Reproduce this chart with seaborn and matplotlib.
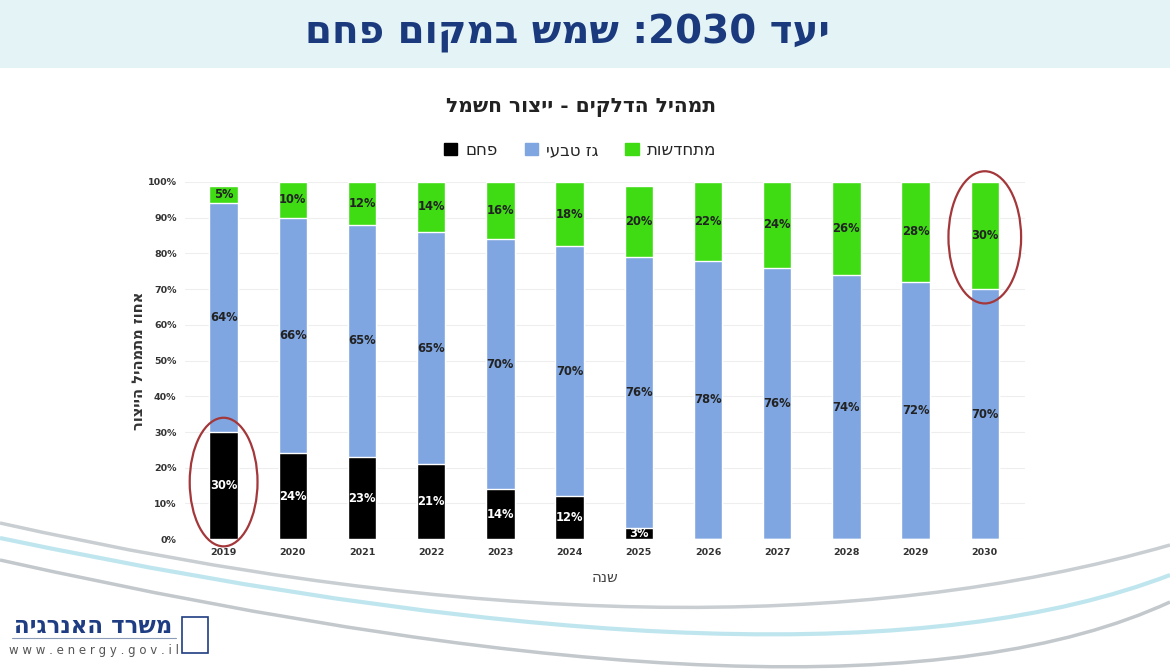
import re
import pandas as pd
import numpy as np
import matplotlib
matplotlib.use("Agg")
import matplotlib.pyplot as plt
from matplotlib.patches import Ellipse, Rectangle
from matplotlib.path import Path
from matplotlib.patches import PathPatch
import seaborn as sns

# data
years = ["2019", "2020", "2021", "2022", "2023", "2024", "2025",
         "2026", "2027", "2028", "2029", "2030"]
coal = [30, 24, 23, 21, 14, 12, 3, 0, 0, 0, 0, 0]
gas = [64, 66, 65, 65, 70, 70, 76, 78, 76, 74, 72, 70]
renew = [5, 10, 12, 14, 16, 18, 20, 22, 24, 26, 28, 30]

series_names = ["פחם", "גז טבעי", "מתחדשות"]
colors = ["#000000", "#7fa6e0", "#3fdc14"]

title_main = "יעד 2030: שמש במקום פחם"
chart_title = "תמהיל הדלקים - ייצור חשמל"
ylab = "אחוז מתמהיל הייצור"
xlab = "שנה"
org_name = "משרד האנרגיה"


def heb(s):
    # matplotlib has no bidi: reverse the string, keep digit runs readable
    r = s[::-1]
    return re.sub(r"\d+", lambda m: m.group(0)[::-1], r)


df = pd.DataFrame({"year": years, "coal": coal, "gas": gas, "renew": renew})
df["top_gas"] = df["coal"] + df["gas"]
df["top_all"] = df["top_gas"] + df["renew"]

sns.set_style("white")
plt.rcParams["font.family"] = ["DejaVu Sans"]

fig = plt.figure(figsize=(11.7, 6.69), dpi=100)
fig.patch.set_facecolor("white")

# background decoration: header band and swooshes
bg = fig.add_axes([0, 0, 1, 1], zorder=-5)
bg.set_xlim(0, 1170)
bg.set_ylim(669, 0)
bg.axis("off")
bg.add_patch(Rectangle((0, 0), 1170, 68, color="#e4f4f6", lw=0))


def swoosh(p0, p1, p2, color, lw):
    path = Path([p0, p1, p2], [Path.MOVETO, Path.CURVE3, Path.CURVE3])
    bg.add_patch(PathPatch(path, fc="none", ec=color, lw=lw))


swoosh((0, 523), (700, 680), (1170, 545), "#c9ced2", 2.5)
swoosh((0, 538), (820, 710), (1170, 575), "#bfe6ee", 3)
swoosh((0, 560), (850, 750), (1170, 602), "#c3c8cc", 2.5)

fig.text(0.485, 0.95, heb(title_main), ha="center", va="center",
         fontsize=28, fontweight="bold", color="#1b3a7e")

# logo
fig.text(0.080, 0.063, heb(org_name), ha="center", va="center",
         fontsize=16.5, fontweight="bold", color="#1f3d83")
fig.text(0.080, 0.028, "w w w . e n e r g y . g o v . i l", ha="center",
         va="center", fontsize=8.5, color="#555555")
bg.add_patch(Rectangle((182, 617), 26, 36, fc="none", ec="#1f3d83", lw=1.2))
bg.plot([12, 176], [638, 638], color="#8a9bb8", lw=0.8)

ax = fig.add_axes([0.158, 0.194, 0.718, 0.534])
ax.set_facecolor("none")

sns.barplot(data=df, x="year", y="top_all", color=colors[2], width=0.41,
            saturation=1, ax=ax, zorder=2)
sns.barplot(data=df, x="year", y="top_gas", color=colors[1], width=0.41,
            saturation=1, ax=ax, zorder=3)
sns.barplot(data=df, x="year", y="coal", color=colors[0], width=0.41,
            saturation=1, ax=ax, zorder=4)

# segment labels
for i in range(len(years)):
    segs = [(0, coal[i], "white"), (coal[i], gas[i], "#222222"),
            (coal[i] + gas[i], renew[i], "#222222")]
    for base, val, tc in segs:
        if val <= 0:
            continue
        ax.text(i, base + val / 2, f"{val}%", ha="center", va="center",
                fontsize=8.3, fontweight="bold", color=tc, zorder=6)

ax.set_ylim(0, 100)
ax.set_xlim(-0.56, 11.58)
ax.set_yticks(range(0, 101, 10))
ax.set_yticklabels([f"{v}%" for v in range(0, 101, 10)])
ax.yaxis.grid(True, color="#eeeeee", lw=0.8, zorder=0)
ax.set_axisbelow(True)
for s in ax.spines.values():
    s.set_visible(False)
ax.tick_params(axis="both", length=0, labelsize=6.8, labelcolor="#333333", pad=6)
for lab in ax.get_xticklabels() + ax.get_yticklabels():
    lab.set_fontweight("bold")

ax.set_xlabel(heb(xlab), fontsize=11, color="#444444", labelpad=10)
ax.set_ylabel(heb(ylab), fontsize=10.5, fontweight="bold", color="#333333",
              labelpad=1)

# highlight ellipses
ax.add_patch(Ellipse((0, 16), 0.98, 36, fc="none", ec="#a3373a", lw=1.6,
                     clip_on=False, zorder=7))
ax.add_patch(Ellipse((11, 84.5), 1.05, 37, fc="none", ec="#a3373a", lw=1.6,
                     clip_on=False, zorder=7))

# legend
handles = [Rectangle((0, 0), 1, 1, color=c) for c in colors]
fig.legend(handles, [heb(n) for n in series_names], loc="center",
           bbox_to_anchor=(0.496, 0.776), ncol=3, frameon=False,
           fontsize=12, handlelength=0.8, handleheight=0.8,
           handletextpad=0.5, columnspacing=1.6)

fig.text(0.497, 0.84, heb(chart_title), ha="center", va="center",
         fontsize=14.5, fontweight="bold", color="#222222")

fig.savefig("out.png", dpi=100)
